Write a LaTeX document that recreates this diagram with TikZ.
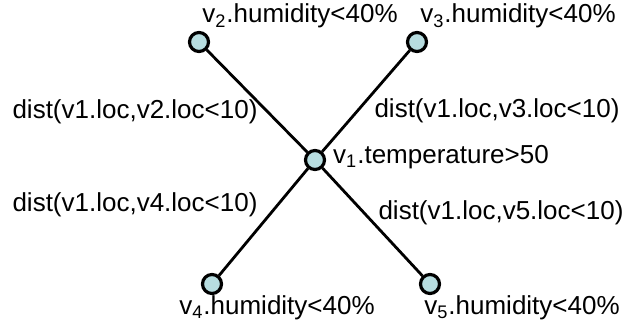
\documentclass[tikz,border=0pt]{standalone}
\usepackage{fontspec}
\setmainfont{Liberation Sans}
\usepackage{tikz}
\usetikzlibrary{positioning}
\definecolor{NodeColor}{RGB}{183,221,224}

\begin{document}
\begin{tikzpicture}[x=0.5pt, y=-0.5pt,
    vtx/.style={circle, draw, line width=1.6pt, fill=NodeColor, minimum size=9.5pt, inner sep=0pt},
    lbl/.style={font=\fontsize{13}{15}\selectfont, inner sep=0pt},
    edge/.style={line width=1.4pt}]
          \useasboundingbox (0,0) rectangle (626,331);
          \node[vtx] (v1) at (315,160) {};
          \node[vtx] (v2) at (199,42) {};
          \node[vtx] (v3) at (417,42) {};
          \node[vtx] (v4) at (212,284) {};
          \node[vtx] (v5) at (430,284) {};
          \draw[edge] (v1) -- (v2);
          \draw[edge] (v1) -- (v3);
          \draw[edge] (v1) -- (v4);
          \draw[edge] (v1) -- (v5);
          \node[lbl] (t1) at (441,157) {v\textsubscript{1}.temperature>50};
          \node[lbl] (t2) at (300,16) {v\textsubscript{2}.humidity<40\%};
          \node[lbl] (t3) at (518,16) {v\textsubscript{3}.humidity<40\%};
          \node[lbl] (t4) at (277,308) {v\textsubscript{4}.humidity<40\%};
          \node[lbl] (t5) at (522,308) {v\textsubscript{5}.humidity<40\%};
          \node[lbl] (d2) at (135,112) {dist(v1.loc,v2.loc<10)};
          \node[lbl] (d3) at (497,111) {dist(v1.loc,v3.loc<10)};
          \node[lbl] (d4) at (135,205) {dist(v1.loc,v4.loc<10)};
          \node[lbl] (d5) at (501,213) {dist(v1.loc,v5.loc<10)};
        \end{tikzpicture}
\end{document}
